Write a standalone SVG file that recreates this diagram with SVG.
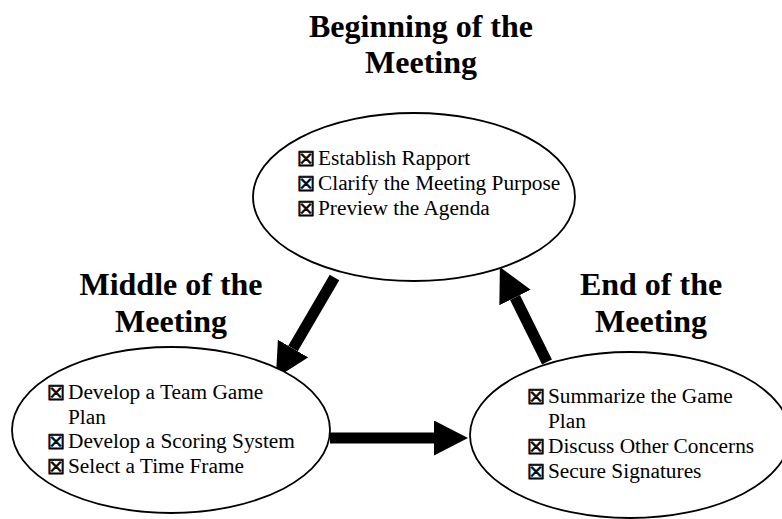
<svg xmlns="http://www.w3.org/2000/svg" width="782" height="519" viewBox="0 0 782 519">
<style>
.bg{fill:#ffffff}
.node{fill:#ffffff;stroke:#000000;stroke-width:1.8}
.title{font-family:"Liberation Serif","Times New Roman",serif;font-weight:bold;font-size:32px;fill:#000000;text-anchor:middle}
.item{font-family:"Liberation Serif","Times New Roman",serif;font-size:21.33px;fill:#000000}
.box{font-family:"DejaVu Sans",sans-serif;font-size:20px;font-weight:bold;fill:#000000;stroke:#000000;stroke-width:0.8}
.shaft{stroke:#000000;stroke-width:11;fill:none;marker-end:url(#head)}
</style>
<defs>
<marker id="head" viewBox="0 0 34 35" refX="0" refY="17.5" markerWidth="34" markerHeight="35" markerUnits="userSpaceOnUse" orient="auto">
<path d="M0,0 L34,17.5 L0,35 Z" fill="#000000"/>
</marker>
</defs>
<rect class="bg" x="0" y="0" width="782" height="519"/>

<g id="connectors">
<line class="shaft" x1="334.5" y1="277.5" x2="293" y2="348.6"/>
<line class="shaft" x1="330" y1="438" x2="434" y2="438"/>
<line class="shaft" x1="547" y1="362" x2="515" y2="297.5"/>
</g>

<g id="beginning">
<text class="title" x="421" y="37">Beginning of the</text>
<text class="title" x="421" y="73">Meeting</text>
<ellipse class="node" cx="414" cy="197" rx="161" ry="84"/>
<text class="box" x="297" y="166">☒</text>
<text class="item" x="318" y="165">Establish Rapport</text>
<text class="box" x="297" y="191">☒</text>
<text class="item" x="318" y="190">Clarify the Meeting Purpose</text>
<text class="box" x="297" y="216">☒</text>
<text class="item" x="318" y="215">Preview the Agenda</text>
</g>

<g id="middle">
<text class="title" x="171" y="295">Middle of the</text>
<text class="title" x="171" y="332">Meeting</text>
<ellipse class="node" cx="171" cy="430" rx="159" ry="83"/>
<text class="box" x="47" y="400">☒</text>
<text class="item" x="68" y="399">Develop a Team Game</text>
<text class="item" x="68" y="424">Plan</text>
<text class="box" x="47" y="449">☒</text>
<text class="item" x="68" y="448">Develop a Scoring System</text>
<text class="box" x="47" y="474">☒</text>
<text class="item" x="68" y="473">Select a Time Frame</text>
</g>

<g id="end">
<text class="title" x="651" y="295">End of the</text>
<text class="title" x="651" y="332">Meeting</text>
<ellipse class="node" cx="630" cy="435" rx="160" ry="83"/>
<text class="box" x="527" y="404">☒</text>
<text class="item" x="548" y="403">Summarize the Game</text>
<text class="item" x="548" y="428">Plan</text>
<text class="box" x="527" y="454">☒</text>
<text class="item" x="548" y="453">Discuss Other Concerns</text>
<text class="box" x="527" y="479">☒</text>
<text class="item" x="548" y="478">Secure Signatures</text>
</g>
</svg>
